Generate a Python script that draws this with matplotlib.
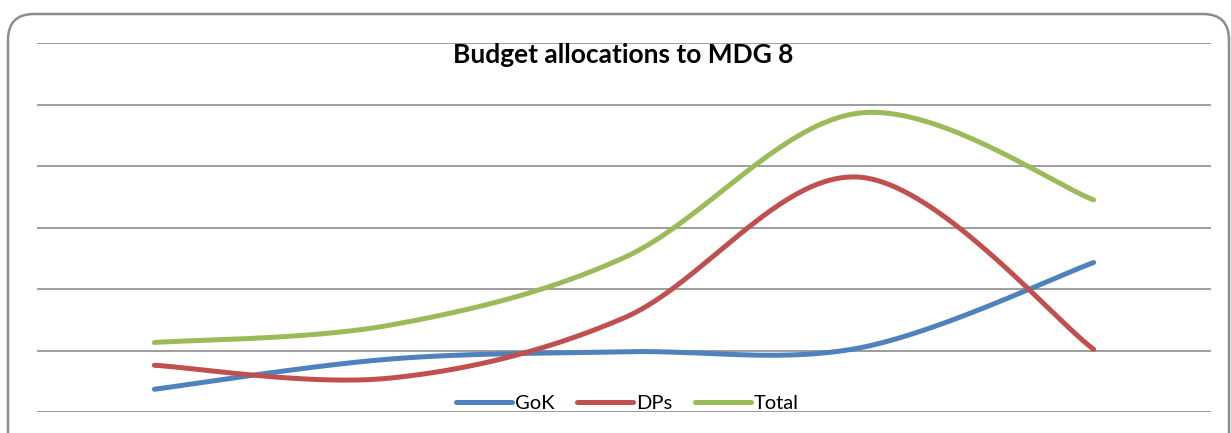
import numpy as np
import matplotlib
matplotlib.use('Agg')
import matplotlib.pyplot as plt
from matplotlib.patches import FancyBboxPatch

# Budget allocations per year (five periods), GoK vs development partners
periods = ['P1', 'P2', 'P3', 'P4', 'P5']
gok = [0.37, 0.86, 0.98, 1.04, 2.43]
dps = [0.76, 0.55, 1.53, 3.82, 1.02]
total = [g + d for g, d in zip(gok, dps)]

colors = {'GoK': '#4F81BD', 'DPs': '#C0504D', 'Total': '#9BBB59'}


def smooth(xs, ys, steps=40):
    # Catmull-Rom style curve through every point (like a smoothed line chart)
    xs = np.asarray(xs, float)
    ys = np.asarray(ys, float)
    px = np.concatenate([[xs[0]], xs, [xs[-1]]])
    py = np.concatenate([[ys[0]], ys, [ys[-1]]])
    out_x, out_y = [], []
    for i in range(1, len(px) - 2):
        p0 = np.array([px[i - 1], py[i - 1]])
        p1 = np.array([px[i], py[i]])
        p2 = np.array([px[i + 1], py[i + 1]])
        p3 = np.array([px[i + 2], py[i + 2]])
        c1 = p1 + (p2 - p0) / 6
        c2 = p2 - (p3 - p1) / 6
        t = np.linspace(0, 1, steps)[:, None]
        pts = ((1 - t) ** 3 * p1 + 3 * (1 - t) ** 2 * t * c1
               + 3 * (1 - t) * t ** 2 * c2 + t ** 3 * p2)
        out_x.extend(pts[:, 0])
        out_y.extend(pts[:, 1])
    return out_x, out_y


fig = plt.figure(figsize=(12.31, 4.33), dpi=100)
ax = fig.add_axes([37 / 1231, 21 / 433, 1174 / 1231, 369 / 433])

x = np.arange(len(periods))
for name, vals in [('GoK', gok), ('DPs', dps), ('Total', total)]:
    sx, sy = smooth(x, vals)
    ax.plot(sx, sy, color=colors[name], lw=3.6, label=name,
            solid_capstyle='round', zorder=3)

ax.set_xlim(-0.5, len(periods) - 0.5)
ax.set_ylim(0, 6)
ax.set_yticks(range(0, 7))
ax.yaxis.grid(True, color='#8C8C8C', lw=1.2)
ax.set_axisbelow(True)
ax.tick_params(left=False, bottom=False, labelleft=False, labelbottom=False)
for s in ax.spines.values():
    s.set_visible(False)

fig.text(623 / 1231, 1 - 55 / 433, 'Budget allocations to MDG 8',
         ha='center', va='center', fontsize=19, fontweight='bold',
         family='Lato')

leg = ax.legend(loc='center', bbox_to_anchor=(0.503, 0.024), ncol=3,
                frameon=False, handlelength=2.8,
                handletextpad=0.15, columnspacing=1.1,
                prop={'family': 'Lato', 'size': 14.5})

# rounded outer frame
frame = FancyBboxPatch((8, -40), 1221, 459,
                       boxstyle='round,pad=0,rounding_size=26',
                       fill=False, edgecolor='#8C8C8C', lw=1.8)
fig.patches.append(frame)

fig.savefig('out.png', dpi=100)
